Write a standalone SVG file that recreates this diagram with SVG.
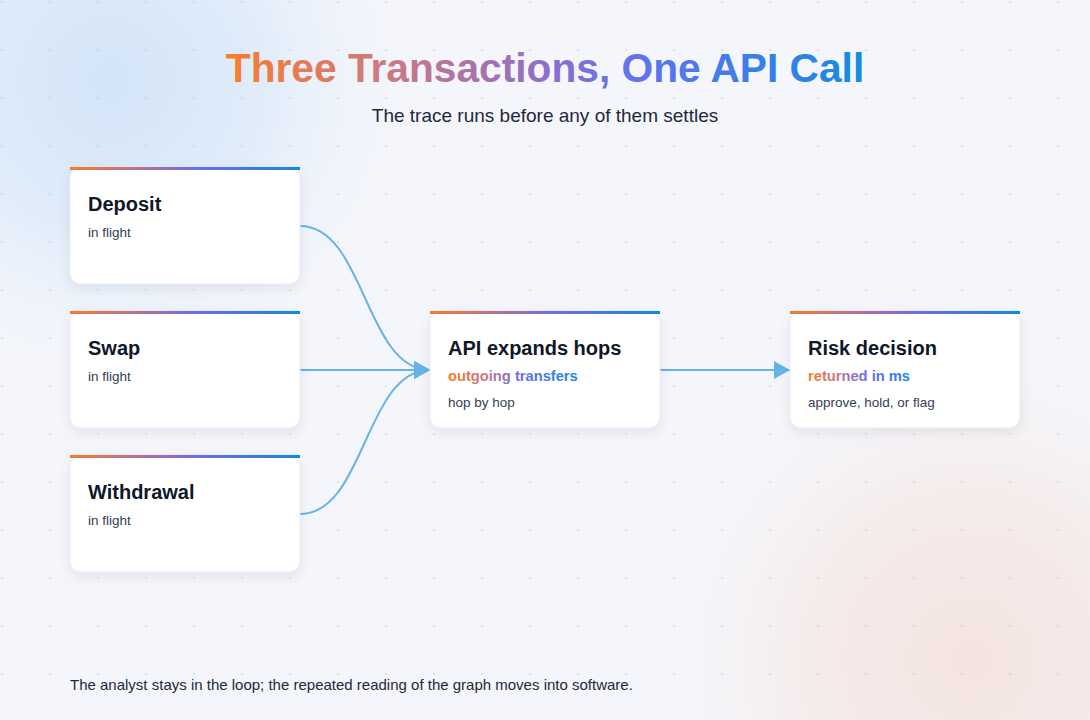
<svg xmlns="http://www.w3.org/2000/svg" width="1090" height="720" viewBox="0 0 1090 720">
  <defs>
    <radialGradient id="glowBlue" cx="110" cy="80" r="330" gradientUnits="userSpaceOnUse">
      <stop offset="0" stop-color="#d3e5f8"/>
      <stop offset="0.45" stop-color="#e0ecfa"/>
      <stop offset="1" stop-color="#f4f6fc" stop-opacity="0"/>
    </radialGradient>
    <radialGradient id="glowPeach" cx="970" cy="660" r="340" gradientUnits="userSpaceOnUse">
      <stop offset="0" stop-color="#f4e4e0"/>
      <stop offset="0.5" stop-color="#f5ecec"/>
      <stop offset="1" stop-color="#f6f5fa" stop-opacity="0"/>
    </radialGradient>
    <pattern id="dots" x="0" y="0" width="48" height="48" patternUnits="userSpaceOnUse">
      <rect x="1" y="1" width="2" height="2" fill="#94a3b8" fill-opacity="0.25"/>
    </pattern>
    <linearGradient id="titleGrad" x1="224" y1="0" x2="866" y2="0" gradientUnits="userSpaceOnUse">
      <stop offset="0" stop-color="#fc7c2a"/>
      <stop offset="0.25" stop-color="#cc7a80"/>
      <stop offset="0.5" stop-color="#8e6ecb"/>
      <stop offset="0.66" stop-color="#5d74ef"/>
      <stop offset="1" stop-color="#168be0"/>
    </linearGradient>
    <linearGradient id="stripe" x1="0" y1="0" x2="1" y2="0">
      <stop offset="0" stop-color="#fb7a2c"/>
      <stop offset="0.28" stop-color="#b7728c"/>
      <stop offset="0.55" stop-color="#6c6bf0"/>
      <stop offset="1" stop-color="#1189e0"/>
    </linearGradient>
    <linearGradient id="textGrad" x1="0" y1="0" x2="1" y2="0">
      <stop offset="0" stop-color="#fb7a2c"/>
      <stop offset="0.3" stop-color="#c57a88"/>
      <stop offset="0.55" stop-color="#6f6cee"/>
      <stop offset="1" stop-color="#1a8ae0"/>
    </linearGradient>
    <filter id="shadow" x="-20%" y="-20%" width="140%" height="150%">
      <feDropShadow dx="0" dy="4" stdDeviation="6" flood-color="#1e293b" flood-opacity="0.08"/>
    </filter>
    <marker id="arrow" viewBox="0 0 16 18" refX="16" refY="9" markerWidth="16" markerHeight="18" markerUnits="userSpaceOnUse" orient="auto">
      <path d="M0,0 L16,9 L0,18 Z" fill="#65b3e7"/>
    </marker>
    <style>
      .card { fill: #ffffff; stroke: #e8ebf2; stroke-width: 1; }
      .bar { fill: url(#stripe); }
      .ntitle { font-family: "Liberation Sans", Arial, sans-serif; font-weight: 700; font-size: 20px; fill: #0f172a; }
      .nsub { font-family: "Liberation Sans", Arial, sans-serif; font-size: 13.5px; fill: #334155; }
      .ngrad { font-family: "Liberation Sans", Arial, sans-serif; font-weight: 700; font-size: 14.7px; fill: url(#textGrad); }
      .edge { fill: none; stroke: #65b3e7; stroke-width: 2; }
    </style>
  </defs>

  <rect width="1090" height="720" fill="#f5f6fb"/>
  <rect width="1090" height="720" fill="url(#glowBlue)"/>
  <rect width="1090" height="720" fill="url(#glowPeach)"/>
  <rect width="1090" height="720" fill="url(#dots)"/>

  <text x="545" y="82" text-anchor="middle" font-family="Liberation Sans, Arial, sans-serif" font-weight="700" font-size="40.7" fill="url(#titleGrad)">Three Transactions, One API Call</text>
  <text x="545" y="122" text-anchor="middle" font-family="Liberation Sans, Arial, sans-serif" font-size="19" fill="#1e293b">The trace runs before any of them settles</text>

  <g id="connectors">
    <path class="edge" d="M300,226 C365,226 365,370 430,370" marker-end="url(#arrow)"/>
    <path class="edge" d="M300,370 L430,370" marker-end="url(#arrow)"/>
    <path class="edge" d="M300,514 C365,514 365,370 430,370" marker-end="url(#arrow)"/>
    <path class="edge" d="M660,370 L790,370" marker-end="url(#arrow)"/>
  </g>

  <g id="node-deposit">
    <rect class="card" x="70" y="167" width="230" height="117" rx="11" filter="url(#shadow)"/>
    <rect class="bar" x="70" y="167" width="230" height="3"/>
    <text class="ntitle" x="88" y="211">Deposit</text>
    <text class="nsub" x="88" y="237">in flight</text>
  </g>

  <g id="node-swap">
    <rect class="card" x="70" y="311" width="230" height="117" rx="11" filter="url(#shadow)"/>
    <rect class="bar" x="70" y="311" width="230" height="3"/>
    <text class="ntitle" x="88" y="355">Swap</text>
    <text class="nsub" x="88" y="381">in flight</text>
  </g>

  <g id="node-withdrawal">
    <rect class="card" x="70" y="455" width="230" height="117" rx="11" filter="url(#shadow)"/>
    <rect class="bar" x="70" y="455" width="230" height="3"/>
    <text class="ntitle" x="88" y="499">Withdrawal</text>
    <text class="nsub" x="88" y="525">in flight</text>
  </g>

  <g id="node-api">
    <rect class="card" x="430" y="311" width="230" height="117" rx="11" filter="url(#shadow)"/>
    <rect class="bar" x="430" y="311" width="230" height="3"/>
    <text class="ntitle" x="448" y="355">API expands hops</text>
    <text class="ngrad" x="448" y="381">outgoing transfers</text>
    <text class="nsub" x="448" y="407">hop by hop</text>
  </g>

  <g id="node-risk">
    <rect class="card" x="790" y="311" width="230" height="117" rx="11" filter="url(#shadow)"/>
    <rect class="bar" x="790" y="311" width="230" height="3"/>
    <text class="ntitle" x="808" y="355">Risk decision</text>
    <text class="ngrad" x="808" y="381">returned in ms</text>
    <text class="nsub" x="808" y="407">approve, hold, or flag</text>
  </g>

  <text x="70" y="690" font-family="Liberation Sans, Arial, sans-serif" font-size="15" fill="#1e293b">The analyst stays in the loop; the repeated reading of the graph moves into software.</text>
</svg>
